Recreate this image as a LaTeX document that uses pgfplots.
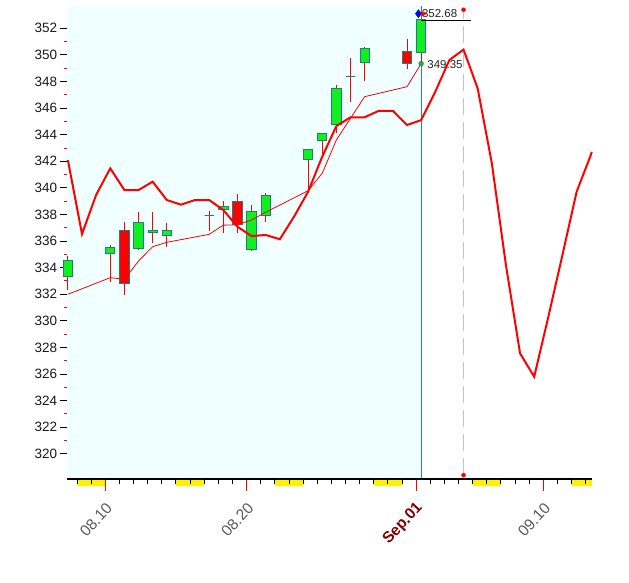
\documentclass[border=0pt]{standalone}
\usepackage{pgfplots}
\pgfplotsset{compat=1.18}
\usepackage{fontspec}
\setmainfont{Liberation Sans}
\definecolor{bgc}{HTML}{F0FFFF}
\definecolor{cgreen}{HTML}{10F020}
\definecolor{cred}{HTML}{FF0000}
\definecolor{cedge}{HTML}{1F7F7F}
\definecolor{vline}{HTML}{2A8585}
\definecolor{lblgray}{HTML}{5A5A5A}
\definecolor{lblred}{HTML}{800000}
\definecolor{dgray}{HTML}{C4C4C4}

% #1 x, #2 left, #3 right, #4 low, #5 body bottom, #6 body top, #7 high, #8 fill
\newcommand{\candle}[8]{%
  \addplot[cred, line width=0.8pt] coordinates {(#1,#4) (#1,#7)};
  \addplot[draw=cedge, fill=#8, line width=0.9pt] coordinates {(#2,#5) (#3,#5) (#3,#6) (#2,#6)} -- cycle;}

\pgfplotstableread{
x y
7.35 342.10
8.35 336.53
9.35 339.47
10.35 341.47
11.35 339.84
12.35 339.84
13.35 340.47
14.35 339.09
15.35 338.74
16.35 339.09
17.35 339.09
18.35 338.34
19.35 337.08
20.35 336.38
21.35 336.46
22.35 336.14
23.35 337.83
24.35 339.71
25.35 342.35
26.35 344.65
27.35 345.31
28.35 345.31
29.35 345.80
30.35 345.80
31.35 344.73
32.35 345.10
33.35 347.23
34.35 349.62
35.35 350.40
36.35 347.49
37.35 341.87
38.35 334.20
39.35 327.56
40.35 325.80
41.35 330.30
42.35 334.96
43.35 339.70
44.35 342.45
44.42 342.70
}\thickline

\pgfplotstableread{
x y
7.35 332.00
10.35 333.25
11.35 333.13
12.35 334.50
13.35 335.58
14.35 335.91
17.35 336.51
18.35 337.20
19.35 337.22
20.35 337.59
21.35 338.17
24.35 339.79
25.35 341.10
26.35 343.60
27.35 345.23
28.35 346.86
31.35 347.61
32.35 349.35
}\maline

\begin{document}
\begin{tikzpicture}
\begin{axis}[
  scale only axis, width=524.4pt, height=473pt,
  xmin=7.31, xmax=44.42, ymin=318.11, ymax=353.68,
  clip=false,
  axis x line=none, axis y line*=left,
  axis line style={black, line width=1.2pt},
  ytick={320,322,...,352},
  minor y tick num=1,
  tick align=outside, ytick pos=left,
  major tick length=7pt, minor tick length=3.5pt,
  major tick style={black, line width=1pt},
  minor tick style={cred, line width=1pt},
  /pgf/number format/assume math mode=true,
  /pgf/number format/fixed,
  yticklabel style={font=\fontsize{13.5pt}{13.5pt}\selectfont, text=black!90, inner sep=0pt, xshift=-3pt},
]
% background of the history region
\addplot[fill=bgc, draw=none] coordinates {(7.31,318.11) (32.35,318.11) (32.35,353.68) (7.31,353.68)} -- cycle;
% current-day vertical line
\addplot[vline, line width=1pt] coordinates {(32.35,318.11) (32.35,353.68)};
% dashed forecast marker
\addplot[dgray, line width=1.3pt, dash pattern=on 17pt off 7pt] coordinates {(35.35,318.4) (35.35,353.4)};
\addplot[only marks, mark=*, mark size=2pt, cred] coordinates {(35.35,318.4) (35.35,353.4)};
% candles
\candle{7.35}{7.02}{7.68}{332.32}{333.35}{334.56}{334.85}{cgreen}
\candle{10.35}{10.02}{10.68}{332.95}{335.08}{335.53}{335.71}{cgreen}
\candle{11.35}{11.02}{11.68}{331.95}{332.83}{336.83}{337.46}{cred}
\candle{12.35}{12.02}{12.68}{335.33}{335.46}{337.44}{338.19}{cgreen}
\candle{13.35}{13.02}{13.68}{335.83}{336.66}{336.83}{338.19}{cgreen}
\candle{14.35}{14.02}{14.68}{335.58}{336.44}{336.83}{337.38}{cgreen}
\candle{17.35}{17.02}{17.68}{336.78}{337.91}{337.91}{338.26}{cgreen}
\candle{18.35}{18.02}{18.68}{336.59}{338.39}{338.62}{339.02}{cgreen}
\candle{19.35}{19.02}{19.68}{336.59}{337.23}{338.99}{339.54}{cred}
\candle{20.35}{20.02}{20.68}{335.26}{335.38}{338.24}{338.71}{cgreen}
\candle{21.35}{21.02}{21.68}{337.46}{337.94}{339.44}{339.59}{cgreen}
\candle{24.35}{24.02}{24.68}{339.58}{342.15}{342.90}{342.90}{cgreen}
\candle{25.35}{25.02}{25.68}{342.35}{343.58}{344.11}{344.11}{cgreen}
\candle{26.35}{26.02}{26.68}{344.11}{344.78}{347.49}{347.74}{cgreen}
\candle{27.35}{27.02}{27.68}{346.48}{348.41}{348.41}{349.74}{cgreen}
\candle{28.35}{28.02}{28.68}{348.06}{349.44}{350.50}{350.62}{cgreen}
\candle{31.35}{31.02}{31.68}{348.94}{349.37}{350.29}{351.20}{cred}
\candle{32.35}{32.02}{32.68}{349.49}{350.20}{352.68}{352.68}{cgreen}
% annotations text
\node[anchor=west, inner sep=0pt, font=\fontsize{11.5pt}{11.5pt}\selectfont, text={black!85}] at (axis cs:32.40,353.10) {352.68};
\node[anchor=west, inner sep=0pt, font=\fontsize{11.5pt}{11.5pt}\selectfont, text={black!85}] at (axis cs:32.78,349.30) {349.35};
% high line
\addplot[black, line width=1pt] coordinates {(32.35,352.62) (35.89,352.62)};
% moving average (thin)
\addplot[cred, line width=0.8pt] table[x=x,y=y] {\maline};
% forecast line (thick)
\addplot[cred, line width=2pt] table[x=x,y=y] {\thickline};
% markers
\addplot[only marks, mark=diamond*, mark size=4pt, fill=blue, draw=blue!70!black] coordinates {(32.16,353.1)};
\addplot[only marks, mark=triangle*, mark size=3pt, mark options={rotate=-90}, cred] coordinates {(32.50,353.1)};
\addplot[only marks, mark=*, mark size=2.4pt, fill=cgreen!80!black, draw=cedge] coordinates {(32.35,349.35)};
\end{axis}
% x axis overlay
\begin{axis}[
  scale only axis, width=524.4pt, height=473pt,
  xmin=7.31, xmax=44.42, ymin=318.11, ymax=353.68,
  clip=false, axis on top,
  hide y axis,
  axis x line*=bottom,
  axis line style={black, line width=1.2pt},
  xtick={10,20,32,41},
  xticklabels={\textcolor{lblgray}{08.10},\textcolor{lblgray}{08.20},\textcolor{lblred}{\bfseries Sep.01},\textcolor{lblgray}{09.10}},
  minor xtick={8,9,...,44},
  tick align=outside, xtick pos=bottom,
  major tick length=12pt, minor tick length=4.7pt,
  major tick style={cred, line width=1pt},
  minor tick style={black, line width=1pt},
  xticklabel style={xshift=4pt, yshift=-14.5pt, rotate=47, anchor=east, inner sep=0pt, font=\fontsize{15.5pt}{15.5pt}\selectfont},
]
\addplot[fill=yellow, draw=none] coordinates {(8,318.11) (10,318.11) (10,317.55) (8,317.55)} -- cycle;
\addplot[fill=yellow, draw=none] coordinates {(15,318.11) (17,318.11) (17,317.55) (15,317.55)} -- cycle;
\addplot[fill=yellow, draw=none] coordinates {(22,318.11) (24,318.11) (24,317.55) (22,317.55)} -- cycle;
\addplot[fill=yellow, draw=none] coordinates {(29,318.11) (31,318.11) (31,317.55) (29,317.55)} -- cycle;
\addplot[fill=yellow, draw=none] coordinates {(36,318.11) (38,318.11) (38,317.55) (36,317.55)} -- cycle;
\addplot[fill=yellow, draw=none] coordinates {(43,318.11) (44.42,318.11) (44.42,317.55) (43,317.55)} -- cycle;
\end{axis}
\pgfresetboundingbox
\path[use as bounding box] (-67.3pt,-103pt) rectangle (561.7pt,479pt);
\end{tikzpicture}
\end{document}
